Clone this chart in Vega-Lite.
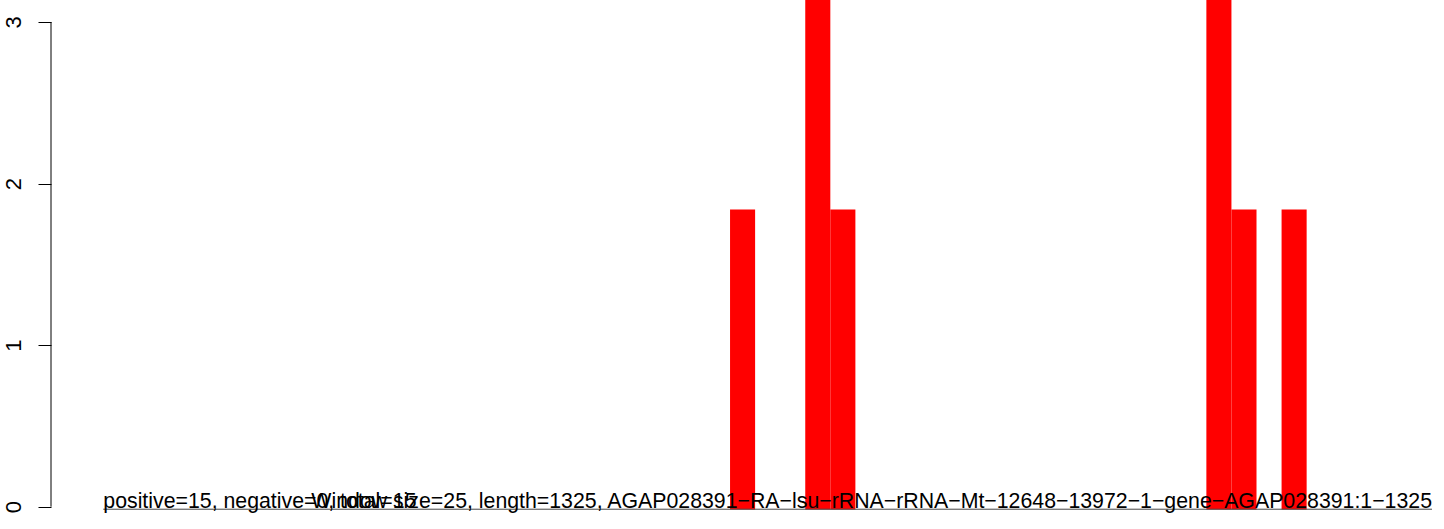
{
  "$schema": "https://vega.github.io/schema/vega-lite/v6.json",
  "autosize": {"type": "none"},
  "padding": {"left": 51, "top": 0, "right": 0, "bottom": 0},
  "width": 1393,
  "height": 529,
  "background": "white",
  "config": {
    "view": {"stroke": null},
    "font": "Liberation Sans",
    "axisY": {"domain": false, "grid": false, "title": null, "tickSize": 13, "tickColor": "black", "tickWidth": 1,
      "labelAngle": -90, "labelAlign": "center", "labelBaseline": "alphabetic", "labelPadding": 18, "labelFontSize": 22,
      "labelColor": "black", "labelFont": "Liberation Sans", "format": "d", "values": [0, 1, 2, 3]}
  },
  "datasets": {
    "windows": [
      {"start": 625, "end": 650, "value": 1.84},
      {"start": 700, "end": 725, "value": 3.68},
      {"start": 725, "end": 750, "value": 1.84},
      {"start": 1100, "end": 1125, "value": 3.68},
      {"start": 1125, "end": 1150, "value": 1.84},
      {"start": 1175, "end": 1200, "value": 1.84}
    ],
    "one": [{}]
  },
  "layer": [
    {
      "data": {"name": "windows"},
      "mark": {"type": "rect", "color": "#FF0000", "clip": true},
      "encoding": {
        "x": {"field": "start", "type": "quantitative", "scale": {"domain": [-52.15, 1336.97], "nice": false, "zero": false}, "axis": null},
        "x2": {"field": "end"},
        "y": {"field": "value", "type": "quantitative", "scale": {"domain": [-0.138, 3.1361], "nice": false, "zero": false},
          "axis": {"values": [0, 1, 2, 3], "format": "d", "labelFontSize": 22, "title": null}},
        "y2": {"datum": -0.018}
      }
    },
    {
      "data": {"name": "one"},
      "mark": {"type": "rule", "color": "black", "strokeWidth": 1},
      "encoding": {
        "x": {"value": 0},
        "y": {"datum": 0, "type": "quantitative"},
        "y2": {"datum": 3}
      }
    },
    {
      "data": {"name": "one"},
      "mark": {"type": "rule", "color": "#444444", "strokeWidth": 1, "yOffset": 2.5},
      "encoding": {
        "x": {"datum": 0, "type": "quantitative"},
        "x2": {"datum": 1325},
        "y": {"datum": 0, "type": "quantitative"}
      }
    },
    {
      "data": {"name": "one"},
      "mark": {"type": "text", "align": "left", "baseline": "alphabetic", "fontSize": 21.3, "font": "Liberation Sans", "color": "black", "dy": 1.5},
      "encoding": {
        "x": {"datum": 0, "type": "quantitative"},
        "y": {"datum": 0, "type": "quantitative"},
        "text": {"value": "positive=15, negative=0, total=15"}
      }
    },
    {
      "data": {"name": "one"},
      "mark": {"type": "text", "align": "right", "baseline": "alphabetic", "fontSize": 21.3, "font": "Liberation Sans", "color": "black", "dy": 1.5},
      "encoding": {
        "x": {"datum": 1325, "type": "quantitative"},
        "y": {"datum": 0, "type": "quantitative"},
        "text": {"value": "Window size=25, length=1325, AGAP028391−RA−lsu−rRNA−rRNA−Mt−12648−13972−1−gene−AGAP028391:1−1325"}
      }
    }
  ]
}
